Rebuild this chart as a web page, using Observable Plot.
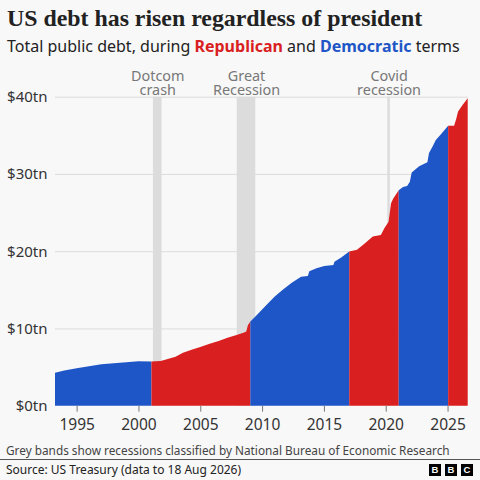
<!DOCTYPE html>
<html><head><meta charset="utf-8">
<script src="https://cdn.jsdelivr.net/npm/d3@7"></script>
<script src="https://cdn.jsdelivr.net/npm/@observablehq/plot@0.6"></script>
<style>
html,body{margin:0;padding:0;background:#f8f8f8;}
body{width:480px;height:480px;position:relative;overflow:hidden;font-family:"Noto Sans",sans-serif;color:#222;}
#title{position:absolute;left:7px;top:5px;font:bold 23.85px "Liberation Serif",serif;white-space:nowrap;}
#sub{position:absolute;left:7px;top:35px;font-size:16px;line-height:22px;white-space:nowrap;}
#sub b.r{color:#d91f1f}#sub b.d{color:#1f56c7}
#chart{position:absolute;left:0;top:60px;}
#note{position:absolute;left:6px;top:442px;font-size:11.8px;line-height:16px;color:#444;white-space:nowrap;}
#rule{position:absolute;left:0;right:0;top:459px;height:1px;background:#555;}
#src{position:absolute;left:6px;top:461px;font-size:12px;line-height:18px;color:#222;white-space:nowrap;}
#bbc{position:absolute;left:429px;top:464px;display:flex;gap:4px;}
#bbc span{width:12px;height:12px;background:#000;color:#fff;font:bold 9.5px/12px "Liberation Sans",sans-serif;text-align:center;}
</style></head><body>
<div id="title">US debt has risen regardless of president</div>
<div id="sub">Total public debt, during <b class="r">Republican</b> and <b class="d">Democratic</b> terms</div>
<div id="chart"></div>
<div id="note">Grey bands show recessions classified by National Bureau of Economic Research</div>
<div id="rule"></div>
<div id="src">Source: US Treasury (data to 18 Aug 2026)</div>
<div id="bbc"><span>B</span><span>B</span><span>C</span></div>
<script>
const termNames = ["Democratic","Republican","Democratic","Republican","Democratic","Republican"];
const termStarts = [1993.25,2001.05,2009.05,2017.05,2021.05,2025.05];
const termEnds = [2001.05,2009.05,2017.05,2021.05,2025.05,2026.63];
const years = [1993.25,1994,1995,1996,1997,1998,1999,2000,2001.05,2001.8,2002.37,2003,2003.6,2004.3,2005,2005.7,2006.55,2007.2,2008,2008.6,2008.72,2008.85,2009.05,2009.5,2010.33,2011,2011.67,2012.4,2013.15,2013.7,2013.82,2014.4,2015.03,2015.77,2015.85,2016.4,2017.05,2017.68,2017.75,2018.3,2018.95,2019.6,2019.7,2019.9,2020.23,2020.43,2020.6,2021.05,2021.4,2021.73,2021.95,2022.1,2022.7,2023.37,2023.5,2023.8,2024.05,2024.5,2025.05,2025.53,2025.7,2025.85,2026.2,2026.63];
const debt = [4.27,4.55,4.84,5.1,5.36,5.5,5.62,5.75,5.72,5.8,6.05,6.35,6.85,7.25,7.6,8.0,8.4,8.8,9.2,9.5,9.6,10.4,10.9,11.6,13.0,14.1,15.0,15.9,16.7,16.8,17.4,17.8,18.1,18.2,18.65,19.2,19.95,20.2,20.3,21.0,21.9,22.1,22.4,23.0,23.8,26.2,26.8,27.9,28.3,28.45,29.0,30.2,31.0,31.5,32.7,33.6,34.4,35.2,36.25,36.25,37.1,38.1,38.9,39.8];
const axisYears = [1995,2000,2005,2010,2015,2020,2025];
const debtTicks = [0,10,20,30,40];
const bandStarts = [2001.17,2007.95,2020.13];
const bandEnds = [2001.87,2009.45,2020.33];
const bandLabels = ["Dotcom\ncrash","Great\nRecession","Covid\nrecession"];

const rows = years.map((y,i)=>({year:y,debt:debt[i]}));
const termRows = termNames.flatMap((party,i)=>
  rows.filter(d=>d.year>=termStarts[i] && d.year<=termEnds[i]).map(d=>({...d,term:i,party})));
const bands = bandStarts.map((s,i)=>({start:s,end:bandEnds[i],mid:(s+bandEnds[i])/2,label:bandLabels[i]}));

const plot = Plot.plot({
  width:480,height:375,
  marginLeft:55,marginRight:12.3,marginTop:36.7,marginBottom:29.3,
  style:{background:"transparent",fontFamily:'"Noto Sans",sans-serif',overflow:"visible"},
  x:{domain:[1993.25,2026.63],label:null},
  y:{domain:[0,40],label:null},
  color:{domain:["Republican","Democratic"],range:["#d91f1f","#1f56c7"]},
  marks:[
    Plot.ruleY(debtTicks.filter(d=>d>0),{stroke:"#dcdcdc",strokeWidth:1}),
    Plot.rectX(bands,{x1:"start",x2:"end",y1:0,y2:40,fill:"#dcdcdc"}),
    Plot.areaY(termRows,{x:"year",y1:0,y2:"debt",z:"term",fill:"party",curve:"linear"}),
    Plot.axisX({ticks:axisYears,tickFormat:d=>String(d),tickSize:6,tickPadding:7,fontSize:15.5,stroke:"#777",color:"#333",label:null}),
    Plot.axisY({ticks:debtTicks,tickFormat:d=>`$${d}tn`,tickSize:0,tickPadding:8,fontSize:15,color:"#333",label:null}),
    Plot.text(bands,{x:"mid",y:40,text:"label",lineAnchor:"bottom",dy:-2.5,fontSize:14.4,fill:"#777",lineHeight:0.97})
  ]
});
document.getElementById("chart").append(plot);
</script>
</body></html>
